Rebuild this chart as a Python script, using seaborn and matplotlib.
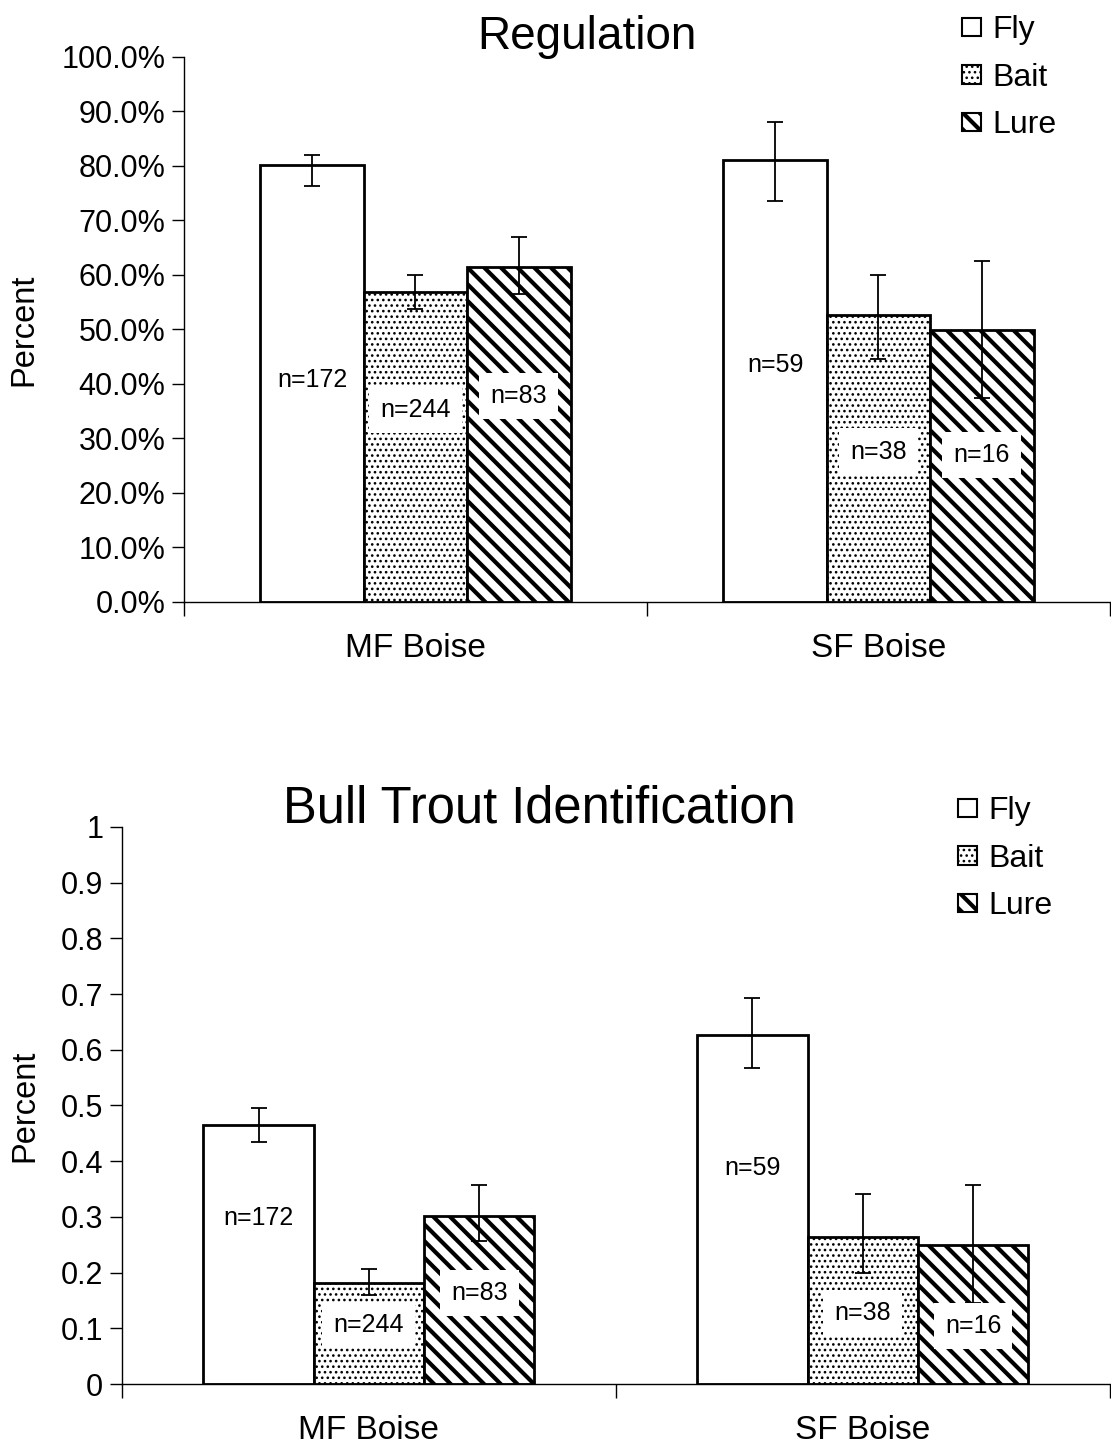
import numpy as np
import pandas as pd
import matplotlib
matplotlib.use("Agg")
import matplotlib.pyplot as plt
import seaborn as sns
from matplotlib.patches import Patch

sns.set_theme(style="white")
plt.rcParams['font.family'] = ['Liberation Sans', 'DejaVu Sans']
plt.rcParams['text.color'] = 'black'
plt.rcParams['axes.labelcolor'] = 'black'
plt.rcParams['xtick.color'] = 'black'
plt.rcParams['ytick.color'] = 'black'
plt.rcParams['hatch.linewidth'] = 3.0

rivers = ["MF Boise", "SF Boise"]
methods = ["Fly", "Bait", "Lure"]

# Regulation (fraction)
reg_vals = [0.802, 0.569, 0.615, 0.811, 0.527, 0.499]
reg_lo = [0.763, 0.538, 0.565, 0.735, 0.445, 0.375]
reg_hi = [0.820, 0.600, 0.670, 0.880, 0.600, 0.625]
reg_n = ["n=172", "n=244", "n=83", "n=59", "n=38", "n=16"]
reg_label_y = [0.407, 0.353, 0.378, 0.434, 0.276, 0.270]

# Bull trout identification
bt_vals = [0.465, 0.181, 0.302, 0.627, 0.264, 0.250]
bt_lo = [0.435, 0.160, 0.257, 0.568, 0.200, 0.145]
bt_hi = [0.495, 0.207, 0.358, 0.693, 0.342, 0.358]
bt_n = ["n=172", "n=244", "n=83", "n=59", "n=38", "n=16"]
bt_label_y = [0.298, 0.106, 0.163, 0.388, 0.127, 0.104]

river_col = [r for r in rivers for _ in methods]
method_col = [m for _ in rivers for m in methods]

hatches = {"Fly": "", "Bait": "...", "Lure": "\\\\"}
hatch_lw = {"Fly": 1.0, "Bait": 1.1, "Lure": 3.0}

fig = plt.figure(figsize=(11.11, 14.45), dpi=100)
ax1 = fig.add_axes([0.1656, 0.5834, 0.8335, 0.3772])
ax2 = fig.add_axes([0.1098, 0.0422, 0.889, 0.3855])


def set_hlw(p, lw):
    if hasattr(p, "set_hatch_linewidth"):
        p.set_hatch_linewidth(lw)


def draw(ax, vals, lo, hi, nlab, laby, title, pct, title_x, title_size, title_pad,
         leg_x, leg_y, ylab_x):
    df = pd.DataFrame({"river": river_col, "method": method_col, "value": vals})
    sns.barplot(data=df, x="river", y="value", hue="method", order=rivers,
                hue_order=methods, width=0.67, errorbar=None, ax=ax,
                palette=["white"] * 3, edgecolor="black", linewidth=2,
                saturation=1, legend=False)
    bars = [p for p in ax.patches if p.get_height() > 0]
    order = []
    for mi in range(len(methods)):
        for ri in range(len(rivers)):
            order.append(ri * len(methods) + mi)
    for p, idx in zip(bars, order):
        m = method_col[idx]
        p.set_hatch(hatches[m])
        set_hlw(p, hatch_lw[m])
        p.set_facecolor("white")
        p.set_edgecolor("black")
        cx = p.get_x() + p.get_width() / 2
        v = vals[idx]
        ax.errorbar(cx, v, yerr=[[v - lo[idx]], [hi[idx] - v]], fmt="none",
                    ecolor="black", elinewidth=1.3, capsize=6, capthick=1.3, zorder=5)
        ax.text(cx, laby[idx], nlab[idx], ha="center", va="center", fontsize=18,
                bbox=dict(boxstyle="square,pad=0.45", fc="white", ec="none"), zorder=6)
    ax.set_xlim(-0.5, 1.5)
    ax.set_ylim(0, 1)
    ax.set_yticks(np.arange(0, 1.01, 0.1))
    if pct:
        ax.set_yticklabels([f"{t*100:.1f}%" for t in np.arange(0, 1.01, 0.1)])
    else:
        ax.set_yticklabels(["0"] + [f"{t:.1f}" for t in np.arange(0.1, 0.95, 0.1)] + ["1"])
    ax.tick_params(axis="y", labelsize=22, length=8.5, width=1, direction="out",
                   left=True, pad=5)
    ax.set_xticks([0, 1])
    ax.set_xticklabels(rivers)
    ax.tick_params(axis="x", which="major", length=0, labelsize=24, pad=22.5)
    ax.set_xticks([-0.5, 0.5, 1.5], minor=True)
    ax.tick_params(axis="x", which="minor", length=10, width=1, direction="out", bottom=True)
    ax.set_xlabel("")
    ax.set_ylabel("Percent", fontsize=23.5)
    ax.yaxis.set_label_coords(ylab_x, 0.5)
    for s in ["top", "right"]:
        ax.spines[s].set_visible(False)
    for s in ["left", "bottom"]:
        ax.spines[s].set_color("black")
        ax.spines[s].set_linewidth(1)
    ax.set_title(title, fontsize=title_size, x=title_x, pad=title_pad)
    handles = []
    for m in methods:
        h = Patch(facecolor="white", edgecolor="black", hatch=hatches[m], label=m, linewidth=1.5)
        set_hlw(h, hatch_lw[m])
        handles.append(h)
    leg = ax.legend(handles=handles, loc="upper left", bbox_to_anchor=(leg_x, leg_y),
                    frameon=False, fontsize=23, handlelength=0.62, handleheight=0.5,
                    handletextpad=0.35, labelspacing=0.55, borderaxespad=0)
    for lp, m in zip(leg.get_patches(), methods):
        set_hlw(lp, hatch_lw[m])


draw(ax1, reg_vals, reg_lo, reg_hi, reg_n, reg_label_y, "Regulation", True, 0.435, 33, 6,
     0.826, 1.1, -0.156)
draw(ax2, bt_vals, bt_lo, bt_hi, bt_n, bt_label_y, "Bull Trout Identification", False, 0.423,
     36.5, 3, 0.833, 1.078, -0.083)

fig.savefig("out.png", dpi=100, facecolor="white")
